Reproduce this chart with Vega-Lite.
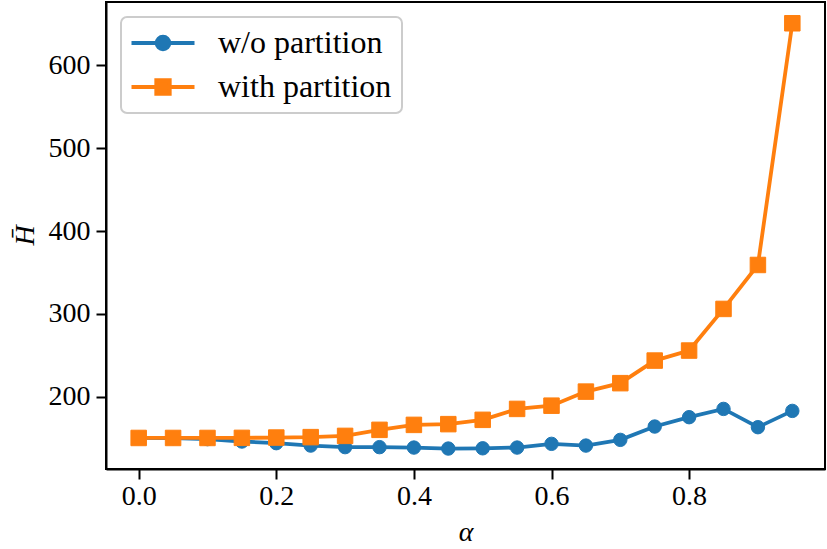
{
  "$schema": "https://vega.github.io/schema/vega-lite/v6.json",
  "width": 719,
  "height": 467,
  "autosize": {"type": "none"},
  "padding": {"left": 106, "top": 2, "right": 2, "bottom": 80},
  "background": "white",
  "data": {
    "values": [
      {"alpha": 0.0, "H": 150.0, "series": "w/o partition"},
      {"alpha": 0.05, "H": 149.8, "series": "w/o partition"},
      {"alpha": 0.1, "H": 148.6, "series": "w/o partition"},
      {"alpha": 0.15, "H": 145.7, "series": "w/o partition"},
      {"alpha": 0.2, "H": 143.7, "series": "w/o partition"},
      {"alpha": 0.25, "H": 140.8, "series": "w/o partition"},
      {"alpha": 0.3, "H": 138.9, "series": "w/o partition"},
      {"alpha": 0.35, "H": 138.9, "series": "w/o partition"},
      {"alpha": 0.4, "H": 138.4, "series": "w/o partition"},
      {"alpha": 0.45, "H": 137.2, "series": "w/o partition"},
      {"alpha": 0.5, "H": 137.5, "series": "w/o partition"},
      {"alpha": 0.55, "H": 138.4, "series": "w/o partition"},
      {"alpha": 0.6, "H": 142.9, "series": "w/o partition"},
      {"alpha": 0.65, "H": 140.8, "series": "w/o partition"},
      {"alpha": 0.7, "H": 147.7, "series": "w/o partition"},
      {"alpha": 0.75, "H": 163.8, "series": "w/o partition"},
      {"alpha": 0.8, "H": 175.1, "series": "w/o partition"},
      {"alpha": 0.85, "H": 185.1, "series": "w/o partition"},
      {"alpha": 0.9, "H": 163.0, "series": "w/o partition"},
      {"alpha": 0.95, "H": 182.7, "series": "w/o partition"},
      {"alpha": 0.0, "H": 150.0, "series": "with partition"},
      {"alpha": 0.05, "H": 150.0, "series": "with partition"},
      {"alpha": 0.1, "H": 150.0, "series": "with partition"},
      {"alpha": 0.15, "H": 150.1, "series": "with partition"},
      {"alpha": 0.2, "H": 150.5, "series": "with partition"},
      {"alpha": 0.25, "H": 151.0, "series": "with partition"},
      {"alpha": 0.3, "H": 152.5, "series": "with partition"},
      {"alpha": 0.35, "H": 159.8, "series": "with partition"},
      {"alpha": 0.4, "H": 165.8, "series": "with partition"},
      {"alpha": 0.45, "H": 166.7, "series": "with partition"},
      {"alpha": 0.5, "H": 171.9, "series": "with partition"},
      {"alpha": 0.55, "H": 185.1, "series": "with partition"},
      {"alpha": 0.6, "H": 189.0, "series": "with partition"},
      {"alpha": 0.65, "H": 206.0, "series": "with partition"},
      {"alpha": 0.7, "H": 216.2, "series": "with partition"},
      {"alpha": 0.75, "H": 243.5, "series": "with partition"},
      {"alpha": 0.8, "H": 255.6, "series": "with partition"},
      {"alpha": 0.85, "H": 305.9, "series": "with partition"},
      {"alpha": 0.9, "H": 359.0, "series": "with partition"},
      {"alpha": 0.95, "H": 651.0, "series": "with partition"}
    ]
  },
  "encoding": {
    "x": {
      "field": "alpha",
      "type": "quantitative",
      "scale": {"domain": [-0.0475, 0.9975], "nice": false, "zero": false},
      "axis": {
        "title": "α",
        "values": [0, 0.2, 0.4, 0.6, 0.8],
        "format": ".1f",
        "labelPadding": 3,
        "titleFontStyle": "italic",
        "titleBaseline": "alphabetic",
        "titleY": 71
      }
    },
    "y": {
      "field": "H",
      "type": "quantitative",
      "scale": {"domain": [112.5, 676.7], "nice": false, "zero": false},
      "axis": {
        "title": "H\u0304",
        "values": [200, 300, 400, 500, 600],
        "labelPadding": 6,
        "titleFontStyle": "italic",
        "titleBaseline": "alphabetic",
        "titleAngle": -90,
        "titleAlign": "center",
        "titleX": -73,
        "titleY": 233
      }
    }
  },
  "layer": [
    {
      "mark": {"type": "line", "strokeWidth": 3.8},
      "encoding": {
        "color": {
          "field": "series",
          "type": "nominal",
          "scale": {"domain": ["w/o partition", "with partition"], "range": ["#1f77b4", "#ff7f0e"]},
          "legend": {
            "title": null,
            "orient": "none",
            "legendX": 15,
            "legendY": 15,
            "padding": 10,
            "symbolSize": 225,
            "symbolOffset": 16,
            "labelOffset": 39,
            "labelLimit": 400,
            "rowPadding": 12,
            "encode": {
              "symbols": {
                "update": {
                  "shape": {"signal": "datum.value === 'w/o partition' ? 'M-4.2,0H4.2M0.85,0A0.85,0.85,0,1,1,-0.85,0A0.85,0.85,0,1,1,0.85,0Z' : 'M-4.2,0H4.2M-0.9,-0.9H0.9V0.9H-0.9Z'"},
                  "fill": {"scale": "color", "field": "value"},
                  "stroke": {"scale": "color", "field": "value"},
                  "strokeWidth": {"value": 3.8},
                  "fillOpacity": {"value": 1},
                  "opacity": {"value": 1}
                }
              }
            }
          }
        }
      }
    },
    {
      "transform": [{"filter": "datum.series === 'w/o partition'"}],
      "mark": {"type": "point", "shape": "circle", "filled": true, "opacity": 1, "size": 180, "color": "#1f77b4", "stroke": "#1f77b4", "strokeWidth": 1}
    },
    {
      "transform": [{"filter": "datum.series === 'with partition'"}],
      "mark": {"type": "point", "shape": "square", "filled": true, "opacity": 1, "size": 240, "color": "#ff7f0e", "stroke": "#ff7f0e", "strokeWidth": 1}
    }
  ],
  "config": {
    "view": {"stroke": "black", "strokeWidth": 2},
    "font": "Liberation Serif",
    "axis": {
      "grid": false,
      "labelFont": "Liberation Serif",
      "labelFontSize": 28,
      "labelColor": "black",
      "titleFont": "Liberation Serif",
      "titleFontSize": 28,
      "titleFontWeight": "normal",
      "titleColor": "black",
      "tickSize": 10,
      "tickWidth": 2,
      "tickColor": "black",
      "domainColor": "black",
      "domainWidth": 2
    },
    "legend": {
      "labelFont": "Liberation Serif",
      "labelFontSize": 32,
      "labelColor": "black",
      "strokeColor": "#cccccc",
      "strokeWidth": 2,
      "fillColor": "white",
      "cornerRadius": 6
    }
  }
}
